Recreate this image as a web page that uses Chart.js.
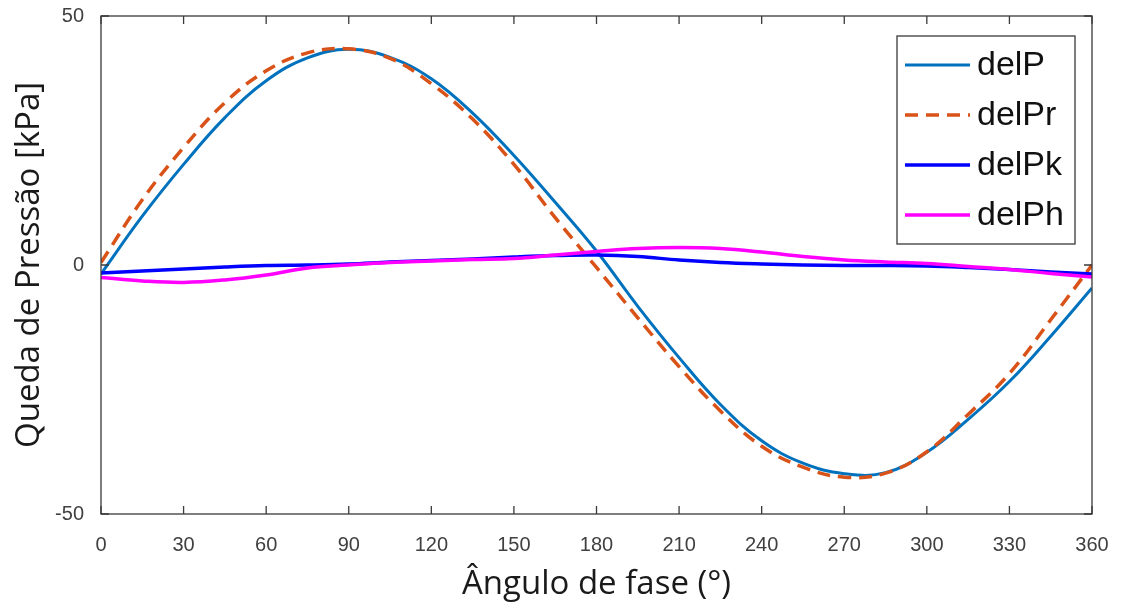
<!DOCTYPE html>
<html>
<head>
<meta charset="utf-8">
<script src="https://cdn.jsdelivr.net/npm/chart.js@4.4.1/dist/chart.umd.min.js"></script>
<style>
html, body { margin: 0; padding: 0; background: #fff; }
#wrap { width: 1121px; height: 604px; }
</style>
</head>
<body>
<div id="wrap"><canvas id="chart" width="1121" height="604"></canvas></div>
<script>
// angles (deg) and pressure drops (kPa)
var angles = [0, 15, 30, 45, 60, 75, 90, 105, 120, 135, 150, 165, 180, 195, 210, 225, 240, 255, 270, 285, 300, 315, 330, 345, 360];
var delP  = [-1.8, 9.8, 20.2, 29.6, 37.0, 41.6, 43.3, 41.7, 37.4, 30.5, 22.0, 12.6, 2.8, -8.3, -18.6, -28.0, -35.3, -39.8, -41.9, -41.7, -37.6, -31.0, -23.4, -14.3, -4.6];
var delPr = [0.5, 13.1, 23.6, 32.6, 39.0, 42.6, 43.4, 41.5, 36.4, 29.3, 20.2, 9.5, -0.5, -10.6, -20.4, -29.3, -36.4, -40.6, -42.6, -41.8, -37.5, -30.0, -21.8, -11.0, 0.0];
var delPk = [-1.6, -1.2, -0.8, -0.4, -0.1, 0.0, 0.2, 0.6, 0.9, 1.2, 1.6, 1.9, 2.0, 1.7, 1.0, 0.5, 0.2, 0.0, -0.1, -0.1, -0.2, -0.5, -0.9, -1.4, -1.8];
var delPh = [-2.5, -3.2, -3.5, -3.0, -2.0, -0.6, 0.0, 0.5, 0.8, 1.1, 1.3, 2.0, 2.7, 3.3, 3.5, 3.3, 2.6, 1.7, 1.0, 0.6, 0.3, -0.3, -0.9, -1.7, -2.4];

var xTicks = [0, 30, 60, 90, 120, 150, 180, 210, 240, 270, 300, 330, 360];
var yTicks = [-50, 0, 50];
var seriesNames = ['delP', 'delPr', 'delPk', 'delPh'];

function points(values) {
    return angles.map(function(a, i) {
        return { x: a, y: values[i] };
    });
}

// MATLAB style box with inward ticks
var boxPlugin = {
    id: 'matlabBox',
    afterDatasetsDraw: function(chart) {
        var c = chart.ctx;
        var area = chart.chartArea;
        var xs = chart.scales.x;
        var ys = chart.scales.y;
        c.save();
        c.strokeStyle = '#3a3a3a';
        c.lineWidth = 1.3;
        c.strokeRect(area.left, area.top, area.right - area.left, area.bottom - area.top);
        c.beginPath();
        xs.ticks.forEach(function(t) {
            var px = xs.getPixelForValue(t.value);
            c.moveTo(px, area.bottom);
            c.lineTo(px, area.bottom - 8);
            c.moveTo(px, area.top);
            c.lineTo(px, area.top + 8);
        });
        ys.ticks.forEach(function(t) {
            var py = ys.getPixelForValue(t.value);
            c.moveTo(area.left, py);
            c.lineTo(area.left + 8, py);
            c.moveTo(area.right, py);
            c.lineTo(area.right - 8, py);
        });
        c.stroke();
        c.restore();
    },
    afterDraw: function(chart) {
        // legend box in the upper right corner
        var c = chart.ctx;
        var area = chart.chartArea;
        var sets = chart.data.datasets;
        var boxRight = area.right - 17;
        var boxTop = area.top + 20;
        var boxW = 178;
        var rowH = 50;
        var boxH = 208;
        var boxLeft = boxRight - boxW;
        c.save();
        c.fillStyle = '#ffffff';
        c.fillRect(boxLeft, boxTop, boxW, boxH);
        c.strokeStyle = '#3a3a3a';
        c.lineWidth = 1.3;
        c.strokeRect(boxLeft, boxTop, boxW, boxH);
        c.font = '34px "Liberation Sans", Arial, sans-serif';
        c.textBaseline = 'middle';
        c.textAlign = 'left';
        sets.forEach(function(ds, i) {
            var y = boxTop + 29 + i * rowH;
            c.beginPath();
            c.strokeStyle = ds.borderColor;
            c.lineWidth = ds.borderWidth;
            c.setLineDash(ds.borderDash || []);
            c.moveTo(boxLeft + 8, y);
            c.lineTo(boxLeft + 73, y);
            c.stroke();
            c.setLineDash([]);
            c.fillStyle = '#111111';
            c.fillText(ds.label, boxLeft + 80, y + 1);
        });
        c.restore();
    }
};

var ctx = document.getElementById('chart');
var chart = new Chart(ctx, {
    type: 'line',
    data: {
        datasets: [
            { label: seriesNames[0], data: points(delP), borderColor: '#0072BD', borderWidth: 3, order: 4 },
            { label: seriesNames[1], data: points(delPr), borderColor: '#D95319', borderWidth: 3.5, borderDash: [13, 8], order: 3 },
            { label: seriesNames[2], data: points(delPk), borderColor: '#0000FF', borderWidth: 3.5, order: 2 },
            { label: seriesNames[3], data: points(delPh), borderColor: '#FF00FF', borderWidth: 3.5, order: 1 }
        ]
    },
    options: {
        responsive: false,
        animation: false,
        devicePixelRatio: 1,
        elements: {
            point: { radius: 0 },
            line: { tension: 0.4, fill: false }
        },
        layout: { padding: { top: 16, right: 29, bottom: 0, left: 0 } },
        plugins: {
            legend: { display: false },
            tooltip: { enabled: false }
        },
        scales: {
            x: {
                type: 'linear',
                min: 0,
                max: 360,
                afterFit: function(scale) {
                    scale.height = 90;
                    scale.paddingLeft = 0;
                    scale.paddingRight = 0;
                },
                afterBuildTicks: function(scale) {
                    scale.ticks = xTicks.map(function(v) { return { value: v }; });
                },
                grid: { display: false },
                border: { display: false },
                ticks: {
                    padding: 11,
                    maxRotation: 0,
                    autoSkip: false,
                    color: '#404040',
                    font: { family: '"Liberation Sans", Arial, sans-serif', size: 20 }
                },
                title: {
                    display: true,
                    text: 'Ângulo de fase (°)',
                    color: '#1a1a1a',
                    padding: { top: 0, bottom: 0 },
                    font: { family: '"Open Sans", sans-serif', size: 33 }
                }
            },
            y: {
                min: -50,
                max: 50,
                afterFit: function(scale) {
                    scale.width = 101;
                    scale.paddingTop = 0;
                    scale.paddingBottom = 0;
                },
                afterBuildTicks: function(scale) {
                    scale.ticks = yTicks.map(function(v) { return { value: v }; });
                },
                grid: { display: false },
                border: { display: false },
                ticks: {
                    padding: 9,
                    color: '#404040',
                    font: { family: '"Liberation Sans", Arial, sans-serif', size: 20 }
                },
                title: {
                    display: true,
                    text: 'Queda de Pressão [kPa]',
                    color: '#1a1a1a',
                    padding: { top: 10, bottom: 0 },
                    font: { family: '"Open Sans", sans-serif', size: 33 }
                }
            }
        }
    },
    plugins: [boxPlugin]
});
</script>
</body>
</html>
